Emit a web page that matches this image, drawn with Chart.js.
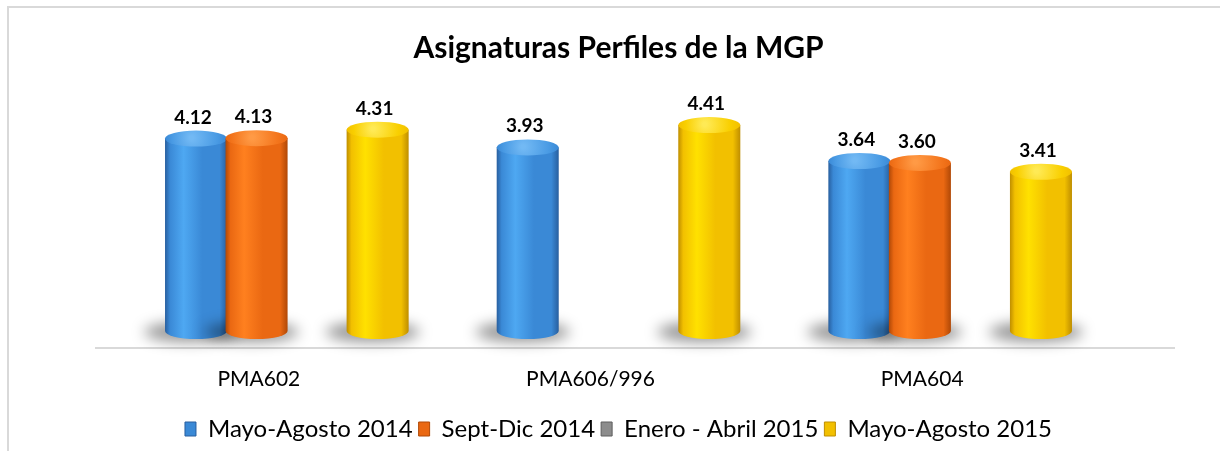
<!DOCTYPE html>
<html>
<head>
<meta charset="utf-8">
<script src="https://cdn.jsdelivr.net/npm/chart.js@4/dist/chart.umd.min.js"></script>
<style>
  html, body { margin: 0; padding: 0; background: #fff; }
  #wrap { position: relative; width: 1220px; height: 451px; overflow: hidden; }
  #frame { position: absolute; left: 7px; top: 6px; width: 1300px; height: 500px;
           border-top: 2px solid #d9d9d9; border-left: 2px solid #d9d9d9; box-sizing: border-box; }
  canvas { position: absolute; left: 0; top: 0; }
</style>
</head>
<body>
<div id="wrap">
  <div id="frame"></div>
  <canvas id="c" width="1220" height="451"></canvas>
</div>
<script>
const titleText = 'Asignaturas Perfiles de la MGP';
const categories = ['PMA602', 'PMA606/996', 'PMA604'];
const seriesNames = ['Mayo-Agosto 2014', 'Sept-Dic 2014', 'Enero - Abril 2015', 'Mayo-Agosto 2015'];
const mayoAgosto2014 = [4.12, 3.93, 3.64];
const septDic2014 = [4.13, null, 3.60];
const eneroAbril2015 = [null, null, null];
const mayoAgosto2015 = [4.31, 4.41, 3.41];

const palettes = [
  { dark: '#285f9f', light: '#4ea8f2', mid: '#3a89d6', top: '#4a9be4', topLight: '#72b9f4', solid: '#3a89d6' },
  { dark: '#b04806', light: '#ff801f', mid: '#ea6812', top: '#f4761d', topLight: '#ff9a45', solid: '#ea6812' },
  { dark: '#5e5e5e', light: '#b4b4b4', mid: '#909090', top: '#a0a0a0', topLight: '#c8c8c8', solid: '#8c8c8c' },
  { dark: '#bf8e00', light: '#ffe100', mid: '#f2c000', top: '#f9cf00', topLight: '#ffea55', solid: '#f2c000' }
];

const FONT = 'Lato, "Open Sans", sans-serif';

function drawCylinder(ctx, x, yTop, yBase, w, p) {
  const rx = w / 2, ry = 8;
  // floor shadow
  ctx.save();
  ctx.filter = 'blur(7px)';
  ctx.fillStyle = 'rgba(0,0,0,0.42)';
  ctx.beginPath();
  ctx.ellipse(x - 5, yBase + 1, rx + 16, ry + 2, 0, 0, Math.PI * 2);
  ctx.fill();
  ctx.restore();

  // body
  ctx.save();
  const g = ctx.createLinearGradient(x - rx, 0, x + rx, 0);
  g.addColorStop(0, p.dark);
  g.addColorStop(0.08, p.mid);
  g.addColorStop(0.3, p.light);
  g.addColorStop(0.6, p.mid);
  g.addColorStop(0.88, p.mid);
  g.addColorStop(1, p.dark);
  ctx.fillStyle = g;
  ctx.beginPath();
  ctx.moveTo(x - rx, yTop);
  ctx.lineTo(x - rx, yBase);
  ctx.ellipse(x, yBase, rx, ry, 0, Math.PI, 0, true);
  ctx.lineTo(x + rx, yTop);
  ctx.closePath();
  ctx.fill();

  // top cap
  const rg = ctx.createRadialGradient(x - rx * 0.15, yTop - ry * 0.1, 2, x, yTop, rx);
  rg.addColorStop(0, p.topLight);
  rg.addColorStop(0.7, p.top);
  rg.addColorStop(1, p.mid);
  ctx.fillStyle = rg;
  ctx.beginPath();
  ctx.ellipse(x, yTop, rx, ry, 0, 0, Math.PI * 2);
  ctx.fill();
  ctx.restore();
}

const cylinderPlugin = {
  id: 'cylinders',
  beforeDatasetsDraw(chart) {
    const ctx = chart.ctx;
    const yScale = chart.scales.y;
    const area = chart.chartArea;
    // floor line
    ctx.save();
    ctx.strokeStyle = '#d9d9d9';
    ctx.lineWidth = 2;
    ctx.beginPath();
    ctx.moveTo(95, area.bottom + 17);
    ctx.lineTo(1175, area.bottom + 17);
    ctx.stroke();
    ctx.restore();

    const base = yScale.getPixelForValue(0);
    chart.data.datasets.forEach((ds, di) => {
      const meta = chart.getDatasetMeta(di);
      meta.data.forEach((el, i) => {
        const v = ds.data[i];
        if (v === null || v === undefined) return;
        const w = el.width + 1.5;
        drawCylinder(ctx, el.x, el.y, base, w, palettes[di]);
      });
    });
    // value labels
    ctx.save();
    ctx.font = 'bold 19px ' + FONT;
    ctx.fillStyle = '#000';
    ctx.textAlign = 'center';
    ctx.textBaseline = 'alphabetic';
    chart.data.datasets.forEach((ds, di) => {
      const meta = chart.getDatasetMeta(di);
      meta.data.forEach((el, i) => {
        const v = ds.data[i];
        if (v === null || v === undefined) return;
        ctx.fillText(v.toFixed(2), el.x - 3, el.y - 15);
      });
    });
    ctx.restore();
    return false;
  }
};

const datasets = [mayoAgosto2014, septDic2014, eneroAbril2015, mayoAgosto2015].map((d, i) => ({
  label: seriesNames[i],
  data: d,
  backgroundColor: palettes[i].solid,
  borderColor: palettes[i].dark,
  borderWidth: 0,
  categoryPercentage: 0.73,
  barPercentage: 1.0
}));

new Chart(document.getElementById('c'), {
  type: 'bar',
  data: { labels: categories, datasets },
  plugins: [cylinderPlugin],
  options: {
    responsive: false,
    animation: false,
    layout: { padding: { left: 121, right: 104, top: 0, bottom: 0 } },
    plugins: {
      tooltip: { enabled: false },
      title: {
        display: true,
        text: titleText,
        color: '#000',
        font: { family: FONT, size: 30, weight: 'bold' },
        padding: { top: 30, bottom: 31.5 }
      },
      legend: {
        position: 'bottom',
        labels: {
          boxWidth: 11,
          boxHeight: 14,
          padding: 6,
          color: '#000',
          font: { family: FONT, size: 24 },
          generateLabels(chart) {
            return chart.data.datasets.map((ds, i) => ({
              text: ds.label,
              fillStyle: palettes[i].solid,
              strokeStyle: palettes[i].dark,
              lineWidth: 1,
              hidden: false,
              datasetIndex: i
            }));
          }
        }
      }
    },
    scales: {
      x: {
        grid: { display: false, drawTicks: false },
        border: { display: false },
        ticks: { color: '#000', font: { family: FONT, size: 21 }, labelOffset: -28, padding: 36 },
        afterFit(s) { s.height = 80; }
      },
      y: {
        display: false,
        min: 0,
        max: 5
      }
    }
  }
});
</script>
</body>
</html>
